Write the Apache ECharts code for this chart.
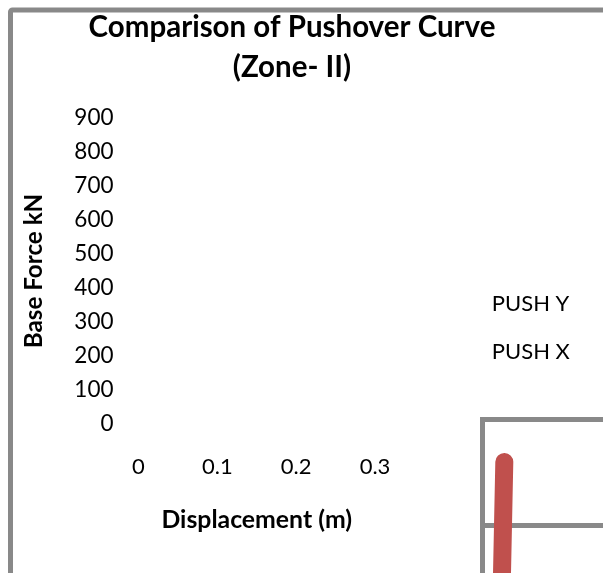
<!DOCTYPE html>
<html>
<head>
<meta charset="utf-8">
<script src="https://cdn.jsdelivr.net/npm/echarts@6/dist/echarts.min.js"></script>
<style>
html,body{margin:0;padding:0;background:#fff;}
#c{width:603px;height:573px;}
</style>
</head>
<body>
<div id="c"></div>
<script>
// ---- data ----
var titleLines = ['Comparison of Pushover Curve', '(Zone- II)'];
var xTicks = [0, 0.1, 0.2, 0.3];
var yTicks = [0, 100, 200, 300, 400, 500, 600, 700, 800, 900];
var seriesNames = ['PUSH Y', 'PUSH X'];
var pushYDisp = [];
var pushYForce = [];
var pushXDisp = [0, 0.005, 0.010, 0.015, 0.020, 0.0247, 0.0276];
var pushXForce = [0, 150, 300, 450, 600, 755, 860];

var FONT = 'Lato';
var chart = echarts.init(document.getElementById('c'), null, {renderer: 'canvas'});

function pairs(xs, ys) { return xs.map(function (x, i) { return [x, ys[i]]; }); }

var option = {
  backgroundColor: '#ffffff',
  animation: false,
  title: {
    text: titleLines.join('\n'),
    left: 292,
    textAlign: 'center',
    top: 7.5,
    padding: 0,
    textStyle: {fontFamily: FONT, fontWeight: 'bold', fontSize: 29.5, lineHeight: 40, color: '#000'}
  },
  legend: {
    orient: 'vertical',
    left: 472,
    top: 288,
    data: seriesNames,
    itemWidth: 0,
    itemHeight: 22,
    itemGap: 26,
    itemStyle: {opacity: 0},
    lineStyle: {opacity: 0},
    textStyle: {fontFamily: FONT, fontSize: 22, lineHeight: 22, color: '#000'}
  },
  graphic: [{
    type: 'rect',
    silent: true,
    z: -1,
    shape: {x: 10.5, y: 10, width: 1200, height: 1200, r: 2},
    style: {fill: 'none', stroke: '#898989', lineWidth: 5}
  }],
  grid: [
    {left: 138.5, top: 118, width: 236.5, height: 306, show: false, outerBoundsMode: 'none', containLabel: false},
    {left: 482.5, top: 419.5, width: 1000, height: 954, show: true, borderColor: '#898989', borderWidth: 5,
      backgroundColor: 'transparent', outerBoundsMode: 'none', containLabel: false}
  ],
  xAxis: [
    {
      type: 'value', gridIndex: 0, min: xTicks[0], max: xTicks[xTicks.length - 1], interval: 0.1,
      axisLine: {show: false}, axisTick: {show: false}, splitLine: {show: false},
      axisLabel: {margin: 32, fontFamily: FONT, fontSize: 22, lineHeight: 22, color: '#000',
        formatter: function (v) { return String(Math.round(v * 10) / 10); }},
      name: 'Displacement (m)', nameLocation: 'middle', nameGap: 84,
      nameTextStyle: {fontFamily: FONT, fontWeight: 'bold', fontSize: 24.8, color: '#000'}
    },
    {
      type: 'value', gridIndex: 1, min: 0, max: 1.2658,
      axisLine: {show: false}, axisTick: {show: false}, splitLine: {show: false}, axisLabel: {show: false}
    }
  ],
  yAxis: [
    {
      type: 'value', gridIndex: 0, min: yTicks[0], max: yTicks[yTicks.length - 1], interval: 100,
      axisLine: {show: false}, axisTick: {show: false}, splitLine: {show: false},
      axisLabel: {margin: 25, fontFamily: FONT, fontSize: 22.5, color: '#000'},
      name: 'Base Force kN', nameLocation: 'middle', nameGap: 92,
      nameTextStyle: {fontFamily: FONT, fontWeight: 'bold', fontSize: 24.2, color: '#000'}
    },
    {
      type: 'value', gridIndex: 1, min: 0, max: 900, interval: 100,
      axisLine: {show: false}, axisTick: {show: false}, axisLabel: {show: false},
      splitLine: {show: true, lineStyle: {color: '#898989', width: 5}}
    }
  ],
  series: [
    {
      name: seriesNames[0], type: 'line', xAxisIndex: 1, yAxisIndex: 1,
      data: pairs(pushYDisp, pushYForce), showSymbol: false,
      lineStyle: {color: '#4f81bd', width: 18, cap: 'round'}, itemStyle: {color: '#4f81bd'}
    },
    {
      name: seriesNames[1], type: 'line', xAxisIndex: 1, yAxisIndex: 1,
      data: pairs(pushXDisp, pushXForce), showSymbol: false, clip: true,
      lineStyle: {color: '#c0504d', width: 18, cap: 'round', join: 'round'}, itemStyle: {color: '#c0504d'}
    }
  ]
};
chart.setOption(option);
</script>
</body>
</html>
